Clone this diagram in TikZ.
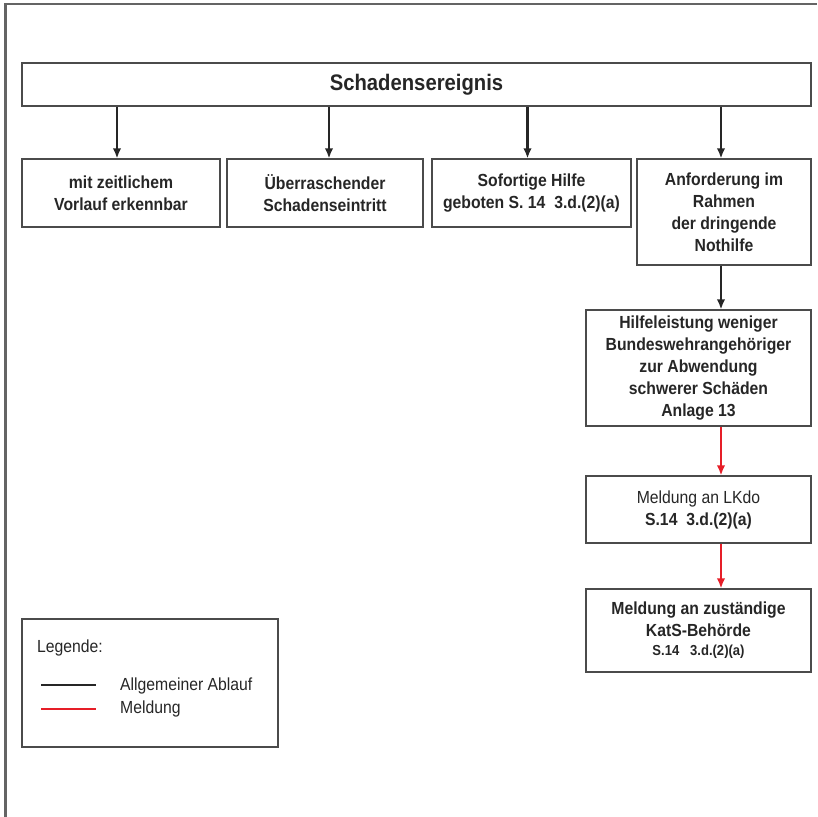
\documentclass[tikz,border=0pt]{standalone}
\usepackage{fontspec}
\setmainfont{Liberation Sans}[FakeStretch=0.9]
\usetikzlibrary{arrows.meta}
\definecolor{boxgray}{RGB}{75,75,75}
\definecolor{framegray}{RGB}{100,100,100}
\definecolor{mred}{RGB}{230,30,40}
\begin{document}
\begin{tikzpicture}[x=1pt,y=-1pt,
  box/.style={draw=boxgray, line width=1.1pt, align=center, inner sep=0pt,
    text=black!85, font=\bfseries\fontsize{17.5}{22}\selectfont},
  flow/.style={line width=2.8pt, draw=black!85, -{Latex[length=10pt,width=8.5pt]}},
  meld/.style={line width=2.2pt, draw=mred, -{Latex[length=10pt,width=8.5pt]}},
  legtext/.style={anchor=west, inner sep=0pt, text=black!85, font=\fontsize{17.5}{22}\selectfont}]
\useasboundingbox (0,0) rectangle (817,817);
% outer frame
\coordinate (fc) at (5.5,4);
\coordinate (fr) at (817,4);
\coordinate (fb) at (5.5,817);
\draw[framegray, line width=2.4pt] (fr) -- (fc) -- (fb);
% nodes
\node[box, minimum width=789pt, minimum height=43pt,
  font=\bfseries\fontsize{22.5}{26}\selectfont] (title) at (416.5,84.5) {Schadensereignis};
\node[box, minimum width=198pt, minimum height=68pt] (b1) at (121,193) {mit zeitlichem\\Vorlauf erkennbar};
\node[box, minimum width=196pt, minimum height=68pt] (b2) at (325,193) {Überraschender\\Schadenseintritt};
\node[box, minimum width=199pt, minimum height=68pt] (b3) at (531.5,193) {Sofortige Hilfe\\geboten S. 14\ \ 3.d.(2)(a)};
\node[box, minimum width=174pt, minimum height=106pt] (b4) at (724,212) {Anforderung im\\Rahmen\\der dringende\\Nothilfe};
\node[box, minimum width=225pt, minimum height=116pt] (b5) at (698.5,368) {Hilfeleistung weniger\\Bundeswehrangehöriger\\zur Abwendung\\schwerer Schäden\\Anlage 13};
\node[box, minimum width=225pt, minimum height=67pt] (b6) at (698.5,509.5) {{\mdseries Meldung an LKdo}\\S.14\ \ 3.d.(2)(a)};
\node[box, minimum width=225pt, minimum height=83pt] (b7) at (698.5,630.5) {Meldung an zuständige\\KatS-Behörde\\[-3pt]{\fontsize{14.5}{17}\selectfont S.14\ \ \ 3.d.(2)(a)}};
% connectors
\draw[flow] (title.south -| b1.north) ++(-4,0) coordinate (a1) -- (a1 |- b1.north);
\draw[flow] (title.south -| b2.north) ++(4,0) coordinate (a2) -- (a2 |- b2.north);
\draw[flow] (title.south -| b3.north) ++(-4,0) coordinate (a3) -- (a3 |- b3.north);
\draw[flow] (title.south -| b4.north) ++(-3,0) coordinate (a4) -- (a4 |- b4.north);
\draw[flow] (b4.south) ++(-3,0) coordinate (a5) -- (a5 |- b5.north);
\draw[meld] (b5.south -| a5) -- (b6.north -| a5);
\draw[meld] (b6.south -| a5) -- (b7.north -| a5);
% legend
\node[draw=boxgray, line width=1.1pt, minimum width=256pt, minimum height=128pt] (legend) at (150,683) {};
\node[legtext] (legt) at (37,648) {Legende:};
\coordinate (l1a) at (41,685);
\coordinate (l1b) at (96,685);
\coordinate (l2a) at (41,709);
\coordinate (l2b) at (96,709);
\draw[line width=2.8pt, black!85] (l1a) -- (l1b);
\draw[line width=2.8pt, mred] (l2a) -- (l2b);
\node[legtext] (lt1) at (120,686) {Allgemeiner Ablauf};
\node[legtext] (lt2) at (120,709) {Meldung};
\end{tikzpicture}
\end{document}
